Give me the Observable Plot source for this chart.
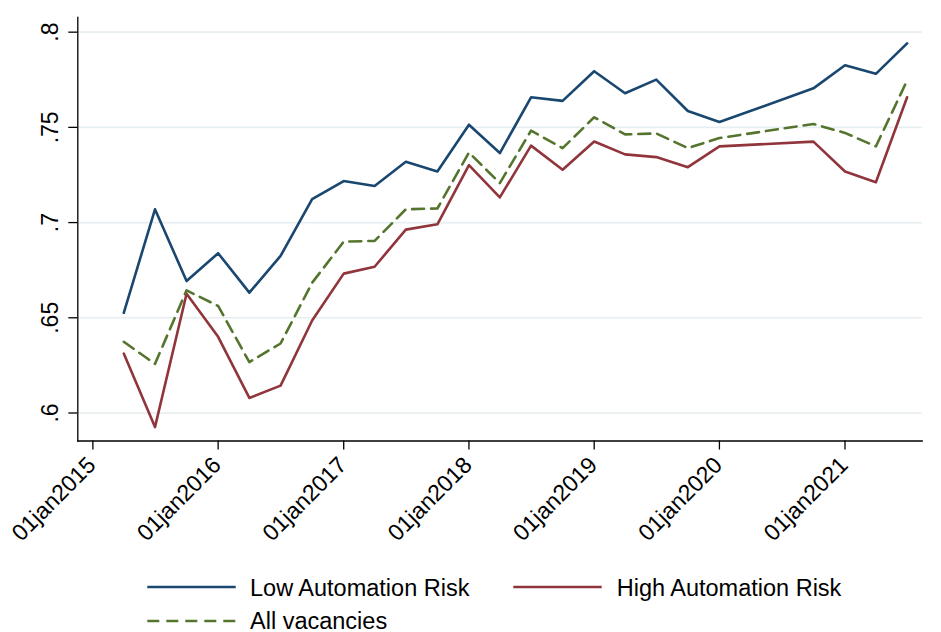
<!DOCTYPE html>
<html><head><meta charset="utf-8">
<script src="https://cdn.jsdelivr.net/npm/d3@7"></script>
<script src="https://cdn.jsdelivr.net/npm/@observablehq/plot@0.6"></script>
<style>
body{margin:0;background:#fff;font-family:"Liberation Sans",Arial,sans-serif;}
svg{display:block}
</style>
</head><body><div id="chart"></div><div id="legend"></div>
<script>
const dates = ["2015-04-01","2015-07-01","2015-10-01","2016-01-01","2016-04-01","2016-07-01","2016-10-01","2017-01-01","2017-04-01","2017-07-01","2017-10-01","2018-01-01","2018-04-01","2018-07-01","2018-10-01","2019-01-01","2019-04-01","2019-07-01","2019-10-01","2020-01-01","2020-10-01","2021-01-01","2021-04-01","2021-07-01"];
const lowRisk = [0.6526,0.7070,0.6693,0.6839,0.6632,0.6825,0.7123,0.7218,0.7192,0.7319,0.7268,0.7514,0.7365,0.7658,0.7639,0.7795,0.7679,0.7751,0.7586,0.7528,0.7705,0.7826,0.7781,0.7941];
const highRisk = [0.6312,0.5926,0.6626,0.6400,0.6079,0.6144,0.6486,0.6732,0.6768,0.6963,0.6991,0.7302,0.7132,0.7404,0.7277,0.7426,0.7358,0.7344,0.7291,0.7400,0.7425,0.7268,0.7212,0.7658];
const allVacancies = [0.6374,0.6258,0.6644,0.6562,0.6267,0.6365,0.6684,0.6900,0.6904,0.7070,0.7074,0.7368,0.7207,0.7483,0.7391,0.7553,0.7463,0.7468,0.7391,0.7444,0.7518,0.7471,0.7400,0.7746];
const seriesNames = ["Low Automation Risk","High Automation Risk","All vacancies"];
const xTickDates = ["2015-01-01","2016-01-01","2017-01-01","2018-01-01","2019-01-01","2020-01-01","2021-01-01"];
const xTickLabels = ["01jan2015","01jan2016","01jan2017","01jan2018","01jan2019","01jan2020","01jan2021"];
const yTicks = [0.6,0.65,0.7,0.75,0.8];
const yTickLabels = [".6",".65",".7",".75",".8"];

const parse = d3.utcParse("%Y-%m-%d");
const rows = dates.map((d,i)=>({date: parse(d), low: lowRisk[i], high: highRisk[i], all: allVacancies[i]}));
const xTicks = xTickDates.map(parse);
const colors = ["#1a476f","#90353b","#55752f"];

const chart = Plot.plot({
  width: 941, height: 560,
  marginLeft: 77.3, marginRight: 19.3, marginTop: 17, marginBottom: 119.5,
  style: {fontFamily: '"Liberation Sans", Arial, sans-serif', fontSize: "23px", color: "#000", background: "#fff"},
  x: {type: "utc", domain: [parse("2014-11-18"), parse("2021-08-14")]},
  y: {domain: [0.5853, 0.8077]},
  marks: [
    Plot.gridY(yTicks, {stroke: "#e6eef1", strokeOpacity: 1, strokeWidth: 1.6}),
    Plot.axisY(yTicks, {tickSize: 9, tickRotate: -90, tickPadding: 11, strokeWidth: 1.3,
      tickFormat: d => yTickLabels[yTicks.indexOf(d)], label: null}),
    Plot.axisX(xTicks, {tickSize: 9, strokeWidth: 1.3, tickFormat: () => "", label: null}),
    Plot.axisX(xTicks, {tickSize: 0, tickRotate: -45, textAnchor: "end", lineAnchor: "top", tickPadding: 13.8, dx: -7.3,
      tickFormat: d => xTickLabels[xTicks.findIndex(t => +t === +d)], label: null}),
    Plot.frame({anchor: "left", strokeWidth: 1.3}),
    Plot.frame({anchor: "bottom", strokeWidth: 1.3}),
    Plot.lineY(rows, {x: "date", y: "low", stroke: colors[0], strokeWidth: 2.6}),
    Plot.lineY(rows, {x: "date", y: "high", stroke: colors[1], strokeWidth: 2.6}),
    Plot.lineY(rows, {x: "date", y: "all", stroke: colors[2], strokeWidth: 2.6, strokeDasharray: "12,7"})
  ]
});
document.getElementById("chart").append(chart);

// legend
const ns = "http://www.w3.org/2000/svg";
const leg = document.createElementNS(ns, "svg");
leg.setAttribute("width", 941); leg.setAttribute("height", 72);
const items = [
  {x1: 147.3, x2: 235.7, ly: 27, tx: 250, ty: 35.7, dash: null},
  {x1: 513.3, x2: 601.7, ly: 27, tx: 616.7, ty: 35.7, dash: null},
  {x1: 147.3, x2: 235.7, ly: 61, tx: 250, ty: 69, dash: "12,7"}
];
items.forEach((it, i) => {
  const l = document.createElementNS(ns, "line");
  l.setAttribute("x1", it.x1); l.setAttribute("x2", it.x2);
  l.setAttribute("y1", it.ly); l.setAttribute("y2", it.ly);
  l.setAttribute("stroke", colors[i]); l.setAttribute("stroke-width", 2.6);
  if (it.dash) l.setAttribute("stroke-dasharray", it.dash);
  leg.append(l);
  const t = document.createElementNS(ns, "text");
  t.setAttribute("x", it.tx); t.setAttribute("y", it.ty);
  t.setAttribute("font-size", "23.5px");
  t.setAttribute("font-family", '"Liberation Sans", Arial, sans-serif');
  t.setAttribute("fill", "#000");
  t.textContent = seriesNames[i];
  leg.append(t);
});
document.getElementById("legend").append(leg);
</script>
</body></html>
